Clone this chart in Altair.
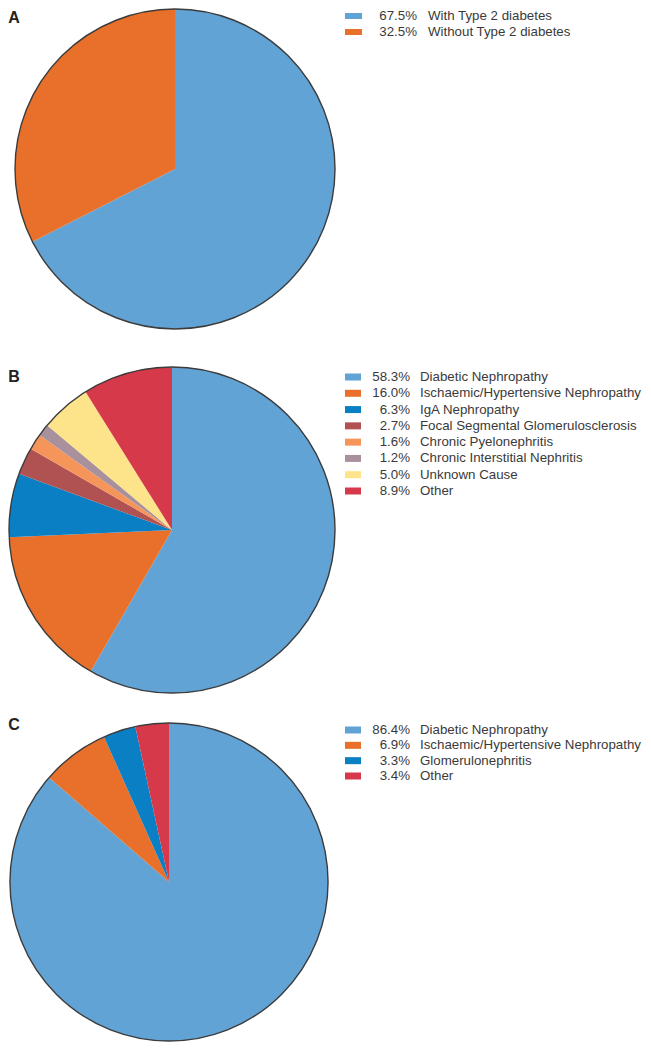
import altair as alt
import pandas as pd

# ---- data ----
a_labels = ["With Type 2 diabetes", "Without Type 2 diabetes"]
a_values = [67.5, 32.5]
a_colors = ["#62a3d5", "#e8702a"]

b_labels = ["Diabetic Nephropathy", "Ischaemic/Hypertensive Nephropathy", "IgA Nephropathy",
            "Focal Segmental Glomerulosclerosis", "Chronic Pyelonephritis",
            "Chronic Interstitial Nephritis", "Unknown Cause", "Other"]
b_values = [58.3, 16.0, 6.3, 2.7, 1.6, 1.2, 5.0, 8.9]
b_colors = ["#62a3d5", "#e8702a", "#0a7fc3", "#b05252", "#f6955a", "#a8919c", "#fde48a", "#d63a4a"]

c_labels = ["Diabetic Nephropathy", "Ischaemic/Hypertensive Nephropathy", "Glomerulonephritis", "Other"]
c_values = [86.4, 6.9, 3.3, 3.4]
c_colors = ["#62a3d5", "#e8702a", "#0a7fc3", "#d63a4a"]

FONT = "Liberation Sans"
TEXT_COLOR = "#3a3a3a"
OUTLINE = "#3c3c3c"
FS = 13.3


def panel(letter, labels, values, colors, cx, cy, r, letter_xy,
          rows, swatch_x, swatch_w, swatch_h, pct_right, label_left):
    df = pd.DataFrame({"label": labels, "value": values, "idx": list(range(len(labels)))})
    color = alt.Color("label:N", scale=alt.Scale(domain=labels, range=colors), legend=None)
    base = alt.Chart(df)

    pie = base.mark_arc(radius=r).encode(
        theta=alt.Theta("value:Q", stack=True),
        order=alt.Order("idx:Q"),
        color=color,
        x=alt.value(cx), y=alt.value(cy),
    )
    outline = alt.Chart(pd.DataFrame({"k": [1]})).mark_arc(
        radius=r, theta=0, theta2=6.283185307179586, filled=False,
        stroke=OUTLINE, strokeWidth=1.4,
    ).encode(x=alt.value(cx), y=alt.value(cy))

    def yenc():
        return alt.Y("label:N", sort=labels, axis=None,
                     scale=alt.Scale(type="point", domain=labels, range=list(rows), padding=0))

    swatch = base.mark_tick(orient="horizontal", size=swatch_w, thickness=swatch_h, opacity=1).encode(
        x=alt.value(swatch_x), y=yenc(), color=color,
    )
    pct = base.transform_calculate(
        pct="format(datum.value, '.1f') + '%'"
    ).mark_text(align="right", baseline="middle", font=FONT, fontSize=FS, color=TEXT_COLOR).encode(
        x=alt.value(pct_right), y=yenc(), text="pct:N",
    )
    lab = base.mark_text(align="left", baseline="middle", font=FONT, fontSize=FS, color=TEXT_COLOR).encode(
        x=alt.value(label_left), y=yenc(), text="label:N",
    )
    let = alt.Chart(pd.DataFrame({"t": [letter]})).mark_text(
        align="center", baseline="middle", font=FONT, fontSize=16, fontWeight="bold", color="#222222"
    ).encode(x=alt.value(letter_xy[0]), y=alt.value(letter_xy[1]), text="t:N")

    return [pie, outline, swatch, pct, lab, let]


layers = []
layers += panel("A", a_labels, a_values, a_colors, 167, 161, 160, (6, 10),
                (8, 24), 345.5, 17, 6, 409, 420)
layers += panel("B", b_labels, b_values, b_colors, 164, 522, 163, (6, 369),
                (369, 483), 345, 16, 7, 402, 412)
layers += panel("C", c_labels, c_values, c_colors, 161, 874, 159, (6, 717),
                (722, 768), 345, 16, 7, 402, 412)

chart = alt.layer(*layers).resolve_scale(
    color="independent", theta="independent", y="independent"
).properties(
    width=635, height=1036, padding=0,
    autosize=alt.AutoSizeParams(type="none"),
).configure_view(strokeWidth=0)

chart.save("out.html", embed_options={"renderer": "svg", "actions": False})
